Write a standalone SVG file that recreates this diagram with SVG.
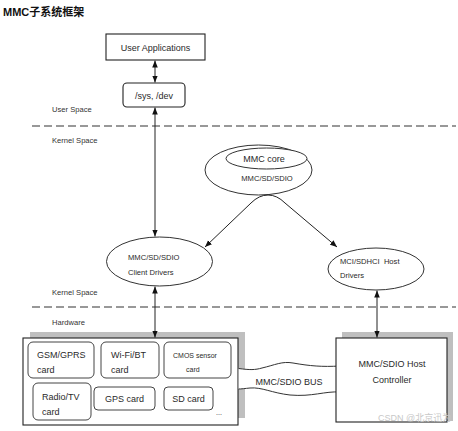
<svg xmlns="http://www.w3.org/2000/svg" width="458" height="431" viewBox="0 0 458 431">
<defs>
<style>
text{font-family:"Liberation Sans","Noto Sans CJK SC",sans-serif;fill:#2a2a2a}
.lbl{font-size:9px}
.sm{font-size:7.6px}
.sp{font-size:7.6px;fill:#333}
.box{fill:#fff;stroke:#222;stroke-width:1.1}
.card{fill:#fff;stroke:#444;stroke-width:1}
.ell{fill:#fff;stroke:#333;stroke-width:1}
.shadow{fill:#bfbfbf}
.dash{stroke:#333;stroke-width:1.2;stroke-dasharray:8 4;fill:none}
.conn{stroke:#222;stroke-width:1;fill:none;marker-start:url(#ah);marker-end:url(#ah)}
</style>
<marker id="ah" viewBox="0 0 10 10" refX="10" refY="5" markerWidth="7" markerHeight="7" markerUnits="userSpaceOnUse" orient="auto-start-reverse">
<path d="M0,1 L10,5 L0,9 Z" fill="#111"/>
</marker>
</defs>
<rect width="458" height="431" fill="#fff"/>
<text x="3" y="16" style="font-size:11px;font-weight:bold;fill:#111">MMC子系统框架</text>

<g id="layers">
<text class="sp" x="52" y="112">User Space</text>
<line class="dash" x1="32" y1="126" x2="456" y2="126"/>
<text class="sp" x="52" y="143">Kernel Space</text>
<text class="sp" x="52" y="295">Kernel Space</text>
<line class="dash" x1="32" y1="307" x2="456" y2="307"/>
<text class="sp" x="52" y="325">Hardware</text>
</g>

<g id="user-applications">
<rect class="box" x="106" y="34" width="99" height="26"/>
<text class="lbl" x="155.5" y="50.5" text-anchor="middle">User Applications</text>
</g>

<g id="sys-dev">
<rect class="box" x="123" y="83" width="62" height="24" rx="4"/>
<text class="lbl" x="154" y="99" text-anchor="middle">/sys, /dev</text>
</g>

<g id="mmc-core">
<ellipse class="ell" cx="258.5" cy="170" rx="53.5" ry="25"/>
<ellipse class="ell" cx="266.5" cy="158.5" rx="40.5" ry="10.5"/>
<text class="lbl" x="264" y="161.5" text-anchor="middle">MMC core</text>
<text class="sm" x="267" y="181" text-anchor="middle">MMC/SD/SDIO</text>
</g>

<g id="client-drivers">
<ellipse class="ell" cx="159.5" cy="261.5" rx="53" ry="24.5"/>
<text class="sm" x="128" y="260">MMC/SD/SDIO</text>
<text class="sm" x="128" y="275">Client Drivers</text>
</g>

<g id="host-drivers">
<ellipse class="ell" cx="376" cy="269" rx="48" ry="21"/>
<text class="sm" x="340" y="264" xml:space="preserve">MCI/SDHCI  Host</text>
<text class="sm" x="340" y="278">Drivers</text>
</g>

<g id="hardware">
<rect class="shadow" x="30" y="332" width="215" height="86"/>
<rect class="box" x="23" y="338" width="215" height="87"/>
<rect class="card" x="28" y="342" width="66" height="36" rx="5"/>
<text class="lbl" x="37" y="358">GSM/GPRS</text>
<text class="lbl" x="37" y="373">card</text>
<rect class="card" x="101" y="342" width="58" height="36" rx="5"/>
<text class="lbl" x="111" y="358">Wi-Fi/BT</text>
<text class="lbl" x="111" y="373">card</text>
<rect class="card" x="164" y="342" width="67" height="36" rx="5"/>
<text x="173" y="358" style="font-size:7px">CMOS  sensor</text>
<text x="186" y="372" style="font-size:7px">card</text>
<rect class="card" x="33" y="383" width="58" height="37" rx="5"/>
<text class="lbl" x="42" y="400">Radio/TV</text>
<text class="lbl" x="42" y="415">card</text>
<rect class="card" x="94" y="387" width="61" height="23" rx="4"/>
<text class="lbl" x="124.5" y="402" text-anchor="middle">GPS card</text>
<rect class="card" x="164" y="387" width="49" height="23" rx="4"/>
<text class="lbl" x="188.5" y="402" text-anchor="middle">SD card</text>
<text x="216" y="415" style="font-size:7px">...</text>
</g>

<g id="bus">
<path d="M238.6,368.5 C250,370 255,370 262,368 C275,365 282,361 293,363 C310,366 322,367 340,366 L340,392 C325,391 312,397 290,395 C272,393 262,387 250,388 C245,388.5 241,389 238.6,389 Z" fill="#fff"/>
<path d="M238.6,368.5 C250,370 255,370 262,368 C275,365 282,361 293,363 C310,366 322,367 340,366 M340,392 C325,391 312,397 290,395 C272,393 262,387 250,388 C245,388.5 241,389 238.6,389" fill="none" stroke="#333" stroke-width="1"/>
<text class="lbl" x="289" y="385" text-anchor="middle">MMC/SDIO BUS</text>
</g>

<g id="host-controller">
<rect class="shadow" x="342" y="332" width="111" height="89"/>
<rect class="box" x="336" y="338" width="111" height="84"/>
<text class="lbl" x="392" y="367" text-anchor="middle">MMC/SDIO Host</text>
<text class="lbl" x="392" y="383" text-anchor="middle">Controller</text>
</g>

<g id="connectors">
<line class="conn" x1="155" y1="60.5" x2="155" y2="82.5"/>
<line class="conn" x1="155" y1="107.5" x2="155" y2="236.5"/>
<line class="conn" x1="155" y1="286.5" x2="155" y2="337.5"/>
<line class="conn" x1="377" y1="290.5" x2="377" y2="337.5"/>
<path class="conn" d="M205,247 L251,203 Q259,195 268,195 Q277,195 285,203 L337,247"/>
</g>

<text x="378" y="421" style="font-size:9px;fill:#c8c8c8">CSDN @北京迅为</text>
</svg>
